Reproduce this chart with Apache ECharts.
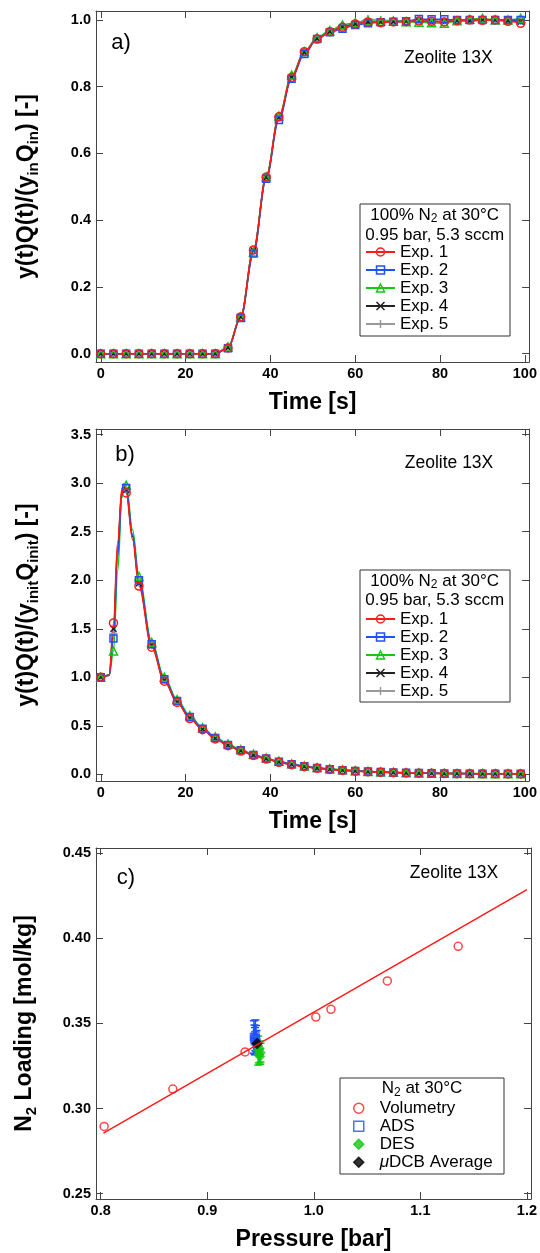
<!DOCTYPE html>
<html><head><meta charset="utf-8">
<script src="https://cdn.jsdelivr.net/npm/echarts@6/dist/echarts.min.js"></script>
<style>html,body{margin:0;padding:0;background:#fff}#c{width:540px;height:1253px}</style>
</head><body><div id="c"></div>
<script>
// ---------- DATA ----------
// Panel a) breakthrough, t in s
const timeA = [0,3,6,9,12,15,18,21,24,27,30,33,36,39,42,45,48,51,54,57,60,63,66,69,72,75,78,81,84,87,90,93,96,99];
const aExp1 = [0,0,0,0,0,0,0,0,0,0,0.017,0.11,0.311,0.529,0.71,0.828,0.905,0.943,0.965,0.978,0.988,0.994,0.992,0.994,0.995,0.997,0.996,0.994,0.998,1.0,0.999,1.0,0.996,0.99];
const aExp2 = [0,0,0,0,0,0,0,0,0,0,0.016,0.107,0.30,0.524,0.70,0.824,0.898,0.943,0.963,0.974,0.985,0.99,0.993,0.995,0.996,1.003,1.002,1.002,1.0,1.0,1.0,1.0,1.0,1.0];
const aExp3 = [0,0,0,0,0,0,0,0,0,0,0.02,0.11,0.305,0.53,0.712,0.835,0.905,0.947,0.968,0.985,0.992,0.998,0.996,0.997,0.995,0.993,0.992,0.99,0.998,1.002,1.005,1.0,1.0,1.005];
const aExp4 = [0,0,0,0,0,0,0,0,0,0,0.018,0.11,0.31,0.528,0.708,0.828,0.903,0.944,0.965,0.979,0.988,0.995,0.994,0.995,0.996,0.997,0.994,0.995,0.998,0.997,1.0,1.0,0.998,0.995];
const aExp5 = [0,0,0,0,0,0,0,0,0,0,0.018,0.11,0.308,0.528,0.708,0.83,0.904,0.945,0.966,0.98,0.99,1.003,1.0,0.998,0.998,0.999,0.998,0.998,0.999,1.0,1.0,0.999,0.999,0.998];

// Panel b) desorption, t in s (markers at multiples of 3 s)
const timeB = [0,2,3,4,5,5.5,6,7.5,9,12,15,18,21,24,27,30,33,36,39,42,45,48,51,54,57,60,63,66,69,72,75,78,81,84,87,90,93,96,99];
const bExp1 = [1.00,1.02,1.56,2.40,2.95,2.99,2.90,2.42,1.94,1.31,0.96,0.74,0.575,0.46,0.365,0.295,0.24,0.195,0.157,0.124,0.099,0.078,0.062,0.05,0.04,0.032,0.026,0.021,0.017,0.014,0.012,0.01,0.008,0.007,0.006,0.005,0.005,0.004,0.004];
const bExp2 = [1.00,1.02,1.40,2.25,2.90,2.99,2.95,2.47,2.00,1.34,0.98,0.755,0.59,0.47,0.375,0.303,0.247,0.2,0.162,0.13,0.103,0.082,0.065,0.053,0.043,0.035,0.028,0.023,0.019,0.016,0.013,0.011,0.009,0.008,0.007,0.006,0.006,0.005,0.005];
const bExp3 = [1.00,1.02,1.27,2.10,2.85,2.98,2.98,2.52,2.04,1.36,1.00,0.77,0.605,0.48,0.385,0.312,0.255,0.207,0.168,0.135,0.108,0.086,0.069,0.056,0.046,0.037,0.03,0.025,0.021,0.017,0.014,0.012,0.01,0.009,0.008,0.007,0.006,0.006,0.005];
const bExp4 = [1.00,1.02,1.50,2.35,2.93,2.99,2.93,2.45,1.97,1.33,0.97,0.745,0.58,0.465,0.37,0.3,0.243,0.198,0.16,0.127,0.101,0.08,0.064,0.052,0.042,0.034,0.027,0.022,0.018,0.015,0.012,0.01,0.009,0.008,0.007,0.006,0.005,0.005,0.004];
const bExp5 = [1.00,1.02,1.45,2.30,2.92,2.99,2.94,2.46,1.98,1.33,0.975,0.75,0.585,0.468,0.372,0.302,0.245,0.199,0.161,0.128,0.102,0.081,0.065,0.052,0.042,0.034,0.028,0.022,0.018,0.015,0.013,0.011,0.009,0.008,0.007,0.006,0.005,0.005,0.004];

// Panel c) isotherm
const volP = [0.8032,0.8677,0.9355,1.0019,1.0161,1.069,1.1355];
const volQ = [0.2895,0.3114,0.3332,0.3537,0.3582,0.3749,0.3952];
const fitP = [0.8026,1.2];
const fitQ = [0.2856,0.4285];
const adsP = [0.9438,0.9443,0.9448,0.9452,0.9457,0.9462];
const adsQ = [0.3420,0.3405,0.3395,0.3430,0.3412,0.3388];
const adsE = [0.0095,0.0085,0.0080,0.0090,0.0075,0.0070];
const desP = [0.9478,0.9484,0.9490,0.9495,0.9500];
const desQ = [0.3340,0.3318,0.3352,0.3305,0.3328];
const desE = [0.0085,0.0050,0.0045,0.0045,0.0055];
const avgP = [0.9468];
const avgQ = [0.3381];

// Tick labels
const ticksT = [0,20,40,60,80,100];
const ticksA = [0,0.2,0.4,0.6,0.8,1.0];
const ticksB = [0,0.5,1.0,1.5,2.0,2.5,3.0,3.5];
const ticksP = [0.8,0.9,1.0,1.1,1.2];
const ticksQ = [0.25,0.30,0.35,0.40,0.45];

// ---------- STYLE ----------
const FONT = "'Liberation Sans', Arial, Helvetica, sans-serif";
const RED = '#ff1a1a', BLUE = '#1f4fff', GREEN = '#14c814', BLACK = '#222222', GRAY = '#9a9a9a';
const AX = '#444';
const X_PATH = 'path://M0,0L10,10M10,0L0,10';
const PLUS_PATH = 'path://M5,0L5,10M0,5L10,5';
const expStyles = {
  'Exp. 1': {symbol:'circle', size:8, color:RED, fill:'rgba(255,255,255,0)'},
  'Exp. 2': {symbol:'rect', size:7, color:BLUE, fill:'rgba(255,255,255,0)'},
  'Exp. 3': {symbol:'triangle', size:8, color:GREEN, fill:'rgba(255,255,255,0)'},
  'Exp. 4': {symbol:X_PATH, size:6, color:BLACK, fill:BLACK},
  'Exp. 5': {symbol:PLUS_PATH, size:8, color:GRAY, fill:GRAY}
};

function xAxisPair(gi, min, max, ticks, fmt, name) {
  const base = {type:'value', gridIndex:gi, min, max, splitLine:{show:false},
    axisLine:{show:true, onZero:false, lineStyle:{color:AX, width:1}},
    axisTick:{show:true, inside:true, length:7, customValues:ticks, lineStyle:{color:AX, width:1}}};
  return [
    Object.assign({}, base, {position:'bottom',
      axisLabel:{show:true, customValues:ticks, formatter:fmt, color:'#000', fontWeight:'bold', fontSize:14.5, fontFamily:FONT, margin:4},
      name, nameLocation:'middle', nameGap:29,
      nameTextStyle:{fontSize:23, fontWeight:'bold', color:'#000', fontFamily:FONT, lineHeight:24}}),
    Object.assign({}, base, {position:'top', axisLabel:{show:false}})
  ];
}
function yAxisPair(gi, min, max, ticks, fmt, name, gap) {
  const base = {type:'value', gridIndex:gi, min, max, splitLine:{show:false},
    axisLine:{show:true, onZero:false, lineStyle:{color:AX, width:1}},
    axisTick:{show:true, inside:true, length:7, customValues:ticks, lineStyle:{color:AX, width:1}}};
  return [
    Object.assign({}, base, {position:'left',
      axisLabel:{show:true, customValues:ticks, formatter:fmt, color:'#000', fontWeight:'bold', fontSize:14.5, fontFamily:FONT, margin:5},
      name, nameLocation:'middle', nameRotate:90, nameGap:gap,
      nameTextStyle:{fontSize:23, fontWeight:'bold', color:'#000', fontFamily:FONT,
        rich:{m:{fontSize:23, fontWeight:'bold', color:'#000', fontFamily:FONT, lineHeight:28},
              s:{fontSize:15, fontWeight:'bold', color:'#000', fontFamily:FONT, lineHeight:12, verticalAlign:'bottom'}}}}),
    Object.assign({}, base, {position:'right', axisLabel:{show:false}})
  ];
}

function expSeries(name, xs, ys, gi) {
  const st = expStyles[name];
  return {
    type:'line', name, xAxisIndex:gi, yAxisIndex:gi,
    data: xs.map((t,i) => (t % 3 === 0) ? [t, ys[i]] : {value:[t, ys[i]], symbol:'none'}),
    smooth:0.35, smoothMonotone:'x', showAllSymbol:true,
    symbol:st.symbol, symbolSize:st.size, symbolKeepAspect:true,
    lineStyle:{color:st.color, width:1.5},
    itemStyle:{color:st.fill, borderColor:st.color, borderWidth:1.5},
    emphasis:{disabled:true}, silent:true
  };
}

function errSeries(xs, ys, es, color) {
  return {
    type:'custom', xAxisIndex:2, yAxisIndex:2, silent:true,
    data: xs.map((x,i) => [x, ys[i], es[i]]),
    encode:{x:0, y:1},
    renderItem: function(params, api) {
      const x = api.value(0), y = api.value(1), e = api.value(2);
      const t = api.coord([x, y + e]), b = api.coord([x, y - e]);
      const c = 4, st = {stroke:color, lineWidth:1.5};
      return {type:'group', children:[
        {type:'line', shape:{x1:t[0], y1:t[1], x2:b[0], y2:b[1]}, style:st},
        {type:'line', shape:{x1:t[0]-c, y1:t[1], x2:t[0]+c, y2:t[1]}, style:st},
        {type:'line', shape:{x1:b[0]-c, y1:b[1], x2:b[0]+c, y2:b[1]}, style:st}
      ]};
    }
  };
}

const xa = xAxisPair(0, -1.12, 101.0, ticksT, v => String(v), 'Time [s]');
const xb = xAxisPair(1, -1.12, 101.0, ticksT, v => String(v), 'Time [s]');
const xc = xAxisPair(2, 0.7956, 1.2039, ticksP, v => v.toFixed(1), 'Pressure [bar]');
const ya = yAxisPair(0, -0.025, 1.027, ticksA, v => v.toFixed(1), '{m|y(t)Q(t)/(y}{s|in}{m|Q}{s|in}{m|) [-]}', 55);
const yb = yAxisPair(1, -0.069, 3.559, ticksB, v => v.toFixed(1), '{m|y(t)Q(t)/(y}{s|init}{m|Q}{s|init}{m|) [-]}', 55);
const yc = yAxisPair(2, 0.2469, 0.4529, ticksQ, v => v.toFixed(2), '{m|N}{s|2}{m| Loading [mol/kg]}', 57);

const expNames = ['Exp. 1','Exp. 2','Exp. 3','Exp. 4','Exp. 5'];
const aData = {'Exp. 1':aExp1,'Exp. 2':aExp2,'Exp. 3':aExp3,'Exp. 4':aExp4,'Exp. 5':aExp5};
const bData = {'Exp. 1':bExp1,'Exp. 2':bExp2,'Exp. 3':bExp3,'Exp. 4':bExp4,'Exp. 5':bExp5};
const drawOrder = ['Exp. 5','Exp. 4','Exp. 3','Exp. 2','Exp. 1'];

const series = [];
drawOrder.forEach(n => series.push(expSeries(n, timeA, aData[n], 0)));
drawOrder.forEach(n => series.push(expSeries(n, timeB, bData[n], 1)));
series.push({type:'line', name:'fit', xAxisIndex:2, yAxisIndex:2, data: fitP.map((p,i)=>[p, fitQ[i]]),
  symbol:'none', lineStyle:{color:RED, width:1.5}, silent:true});
series.push({type:'scatter', name:'Volumetry', xAxisIndex:2, yAxisIndex:2, data: volP.map((p,i)=>[p, volQ[i]]),
  symbol:'circle', symbolSize:8,
  itemStyle:{color:'rgba(255,255,255,0)', borderColor:RED, borderWidth:1.5}, silent:true});
series.push(errSeries(adsP, adsQ, adsE, BLUE));
series.push({type:'scatter', name:'ADS', xAxisIndex:2, yAxisIndex:2, data: adsP.map((p,i)=>[p, adsQ[i]]),
  symbol:'rect', symbolSize:7,
  itemStyle:{color:'rgba(255,255,255,0)', borderColor:BLUE, borderWidth:1.5}, silent:true});
series.push(errSeries(desP, desQ, desE, GREEN));
series.push({type:'scatter', name:'DES', xAxisIndex:2, yAxisIndex:2, data: desP.map((p,i)=>[p, desQ[i]]),
  symbol:'diamond', symbolSize:10,
  itemStyle:{color:GREEN, borderColor:GREEN, borderWidth:0.5}, silent:true});
series.push({type:'scatter', name:'μDCB Average', xAxisIndex:2, yAxisIndex:2, data: avgP.map((p,i)=>[p, avgQ[i]]),
  symbol:'diamond', symbolSize:11,
  itemStyle:{color:'#000', borderColor:'#000', borderWidth:0.5}, silent:true});

const legTxt = {fontSize:17, fontFamily:FONT, color:'#000', lineHeight:18,
  rich:{i:{fontSize:17, fontStyle:'italic', fontFamily:FONT, color:'#000', lineHeight:18}}};
function expLegend(top) {
  return {orient:'vertical', left:365, top, padding:0, itemGap:0, itemWidth:29, itemHeight:10,
    selectedMode:false, data:expNames, textStyle:legTxt, itemStyle:{borderWidth:1.5}};
}

const subRich = {s:{fontSize:12, fontFamily:FONT, fill:'#000', verticalAlign:'bottom', lineHeight:10}};
function txt(x, y, text, size, extra) {
  return Object.assign({type:'text', x, y, silent:true,
    style:{text, fontSize:size, fontFamily:FONT, fill:'#000', align:'center', verticalAlign:'middle', lineHeight:20, rich:subRich}}, extra || {});
}
function box(x, y, w, h) {
  return {type:'rect', shape:{x, y, width:w, height:h}, silent:true,
    style:{fill:'rgba(0,0,0,0)', stroke:'#333', lineWidth:1}, z:10};
}

const option = {
  animation:false,
  backgroundColor:'#fff',
  textStyle:{fontFamily:FONT},
  grid:[
    {left:96, right:8, top:11, height:351},
    {left:96, right:8, top:429, height:352},
    {left:96, right:8, top:848, height:351}
  ],
  xAxis:[xa[0], xb[0], xc[0], xa[1], xb[1], xc[1]],
  yAxis:[ya[0], yb[0], yc[0], ya[1], yb[1], yc[1]],
  legend:[
    expLegend(243),
    expLegend(610),
    {orient:'vertical', left:353, top:1099.3, padding:0, itemGap:0, itemWidth:10, itemHeight:10,
      selectedMode:false, data:['Volumetry','ADS','DES','μDCB Average'],
      textStyle:Object.assign({}, legTxt, {padding:[0,0,0,11]}),
      itemStyle:{borderWidth:1.5},
      formatter: n => n === 'μDCB Average' ? '{i|μ}DCB Average' : n}
  ],
  series,
  graphic:[
    box(360, 204, 150, 132),
    txt(434.7, 215, '100% N{s|2} at 30°C', 17),
    txt(434.7, 235, '0.95 bar, 5.3 sccm', 17),
    box(360, 570, 150, 132),
    txt(434.7, 581, '100% N{s|2} at 30°C', 17),
    txt(434.7, 600, '0.95 bar, 5.3 sccm', 17),
    box(340, 1078, 164, 96),
    txt(422, 1088.5, 'N{s|2} at 30°C', 17),
    txt(448.3, 58.3, 'Zeolite 13X', 17.5),
    txt(449, 463.3, 'Zeolite 13X', 17.5),
    txt(454, 873.3, 'Zeolite 13X', 17.5),
    txt(121, 43.3, 'a)', 22),
    txt(125, 455, 'b)', 22),
    txt(126, 878.3, 'c)', 22)
  ]
};

const chart = echarts.init(document.getElementById('c'), null, {renderer:'canvas'});
chart.setOption(option);
</script>
</body></html>
